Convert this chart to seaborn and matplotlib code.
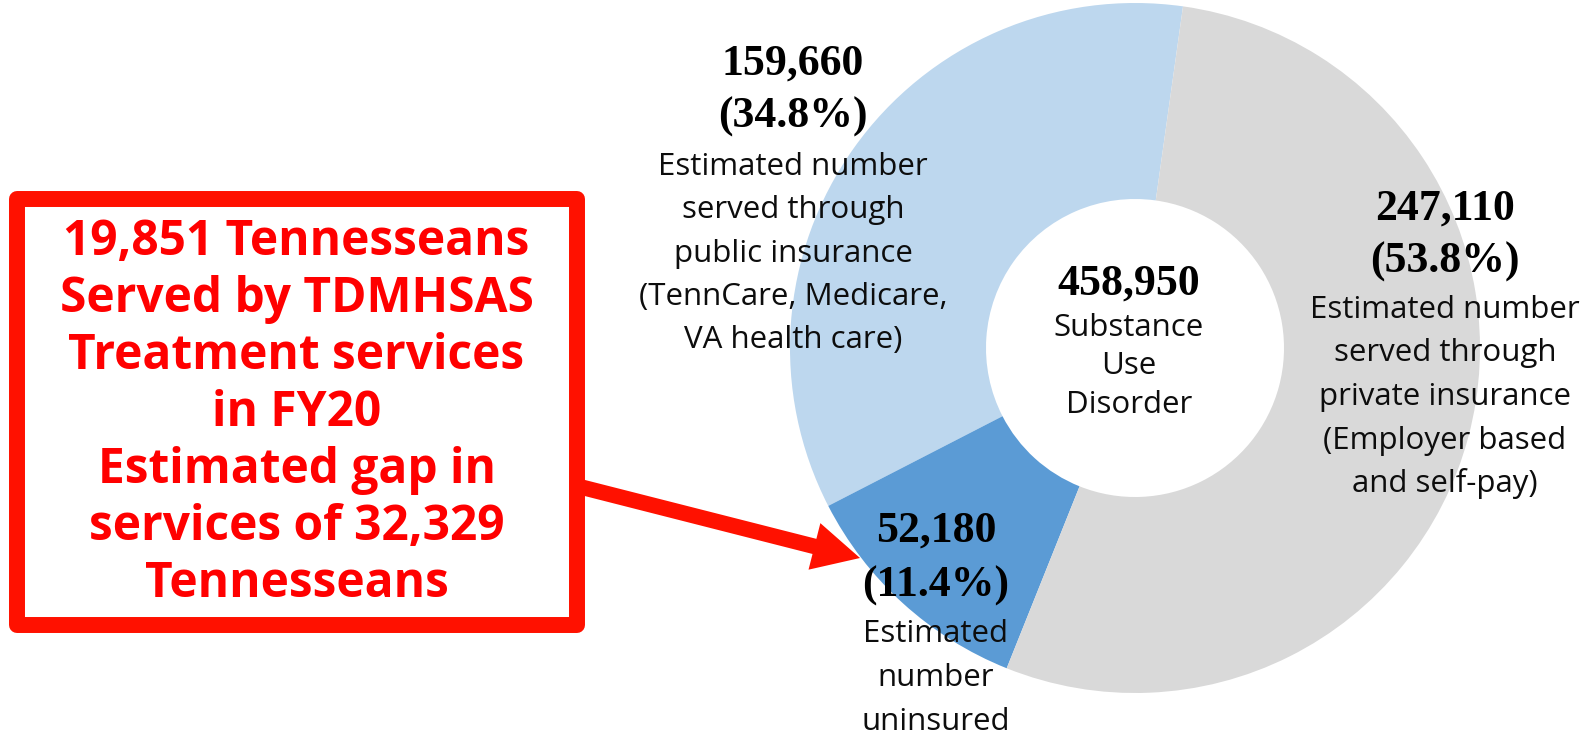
import matplotlib
matplotlib.use("Agg")
import matplotlib.pyplot as plt
from matplotlib.patches import Rectangle, FancyArrow
import seaborn as sns

# Dados do gráfico
SEGMENTS = ["public", "uninsured", "private"]
COUNTS = [159660, 52180, 247110]
COLORS = ["#BDD7EE", "#5B9BD5", "#D9D9D9"]
DESCRIPTIONS = [
    ["Estimated number", "served through", "public insurance",
     "(TennCare, Medicare,", "VA health care)"],
    ["Estimated", "number", "uninsured"],
    ["Estimated number", "served through", "private insurance",
     "(Employer based", "and self-pay)"],
]
CENTER_LINES = ["Substance", "Use", "Disorder"]
CALLOUT_LINES = [
    "19,851 Tennesseans", "Served by TDMHSAS", "Treatment services",
    "in FY20", "Estimated gap in", "services of 32,329", "Tennesseans",
]

# Layout em pixels (origem no canto superior esquerdo, como na imagem)
W, H = 1592, 734
CENTER = (1135, 348)
RADIUS = 345
HOLE = 149
# (x, baseline do número, baseline do %, primeira linha do texto, passo)
LABEL_POS = [
    (793, 75, 128, 175, 43.3),
    (936, 542, 597, 642, 44.0),
    (1445, 220, 273, 318, 43.5),
]
RED = "#FF1100"

sns.set_theme(style="white")
plt.rcParams["font.family"] = ["Open Sans", "DejaVu Sans"]

fig = plt.figure(figsize=(W / 100, H / 100), dpi=100)
ax = fig.add_axes([0, 0, 1, 1])


def iy(y):
    """Converte y da imagem (para baixo) em y do eixo (para cima)."""
    return H - y


wedges, _ = ax.pie(
    COUNTS,
    colors=COLORS,
    startangle=82,
    counterclock=True,
    center=(CENTER[0], iy(CENTER[1])),
    radius=RADIUS,
    wedgeprops=dict(width=RADIUS - HOLE, linewidth=0),
)

total = sum(COUNTS)
num_font = dict(family="Liberation Serif", fontweight="bold", fontsize=31.5, color="black")
desc_font = dict(fontsize=22.5, color="#0D0D0D")

for value, desc, (x, y_num, y_pct, y_desc, step) in zip(COUNTS, DESCRIPTIONS, LABEL_POS):
    ax.text(x, iy(y_num), f"{value:,}", ha="center", va="baseline", **num_font)
    ax.text(x, iy(y_pct), f"({value / total * 100:.1f}%)", ha="center", va="baseline", **num_font)
    for i, line in enumerate(desc):
        ax.text(x, iy(y_desc + i * step), line, ha="center", va="baseline", **desc_font)

# Total no centro
ax.text(1129, iy(295), f"{total:,}", ha="center", va="baseline", **num_font)
for i, line in enumerate(CENTER_LINES):
    ax.text(1129, iy(336 + i * 38.5), line, ha="center", va="baseline", **desc_font)

# Caixa vermelha com o destaque
box = Rectangle((17, iy(625)), 559.5, 426, fill=False, edgecolor=RED,
                linewidth=11.5, joinstyle="round")
ax.add_patch(box)
for i, line in enumerate(CALLOUT_LINES):
    ax.text(296.5, iy(255 + i * 57), line, ha="center", va="baseline",
            fontsize=34.5, fontweight="bold", color="#FF0000")

# Seta ligando a caixa à fatia de não segurados
x0, y0 = 577, 486
x1, y1 = 860, 558
ax.add_patch(FancyArrow(x0, iy(y0), x1 - x0, -(y1 - y0), width=15.6,
                        head_width=48, head_length=47, length_includes_head=True,
                        color=RED, linewidth=0))

ax.set_xlim(0, W)
ax.set_ylim(0, H)
ax.set_aspect("auto")
ax.axis("off")

fig.savefig("out.png", dpi=100, facecolor="white")
